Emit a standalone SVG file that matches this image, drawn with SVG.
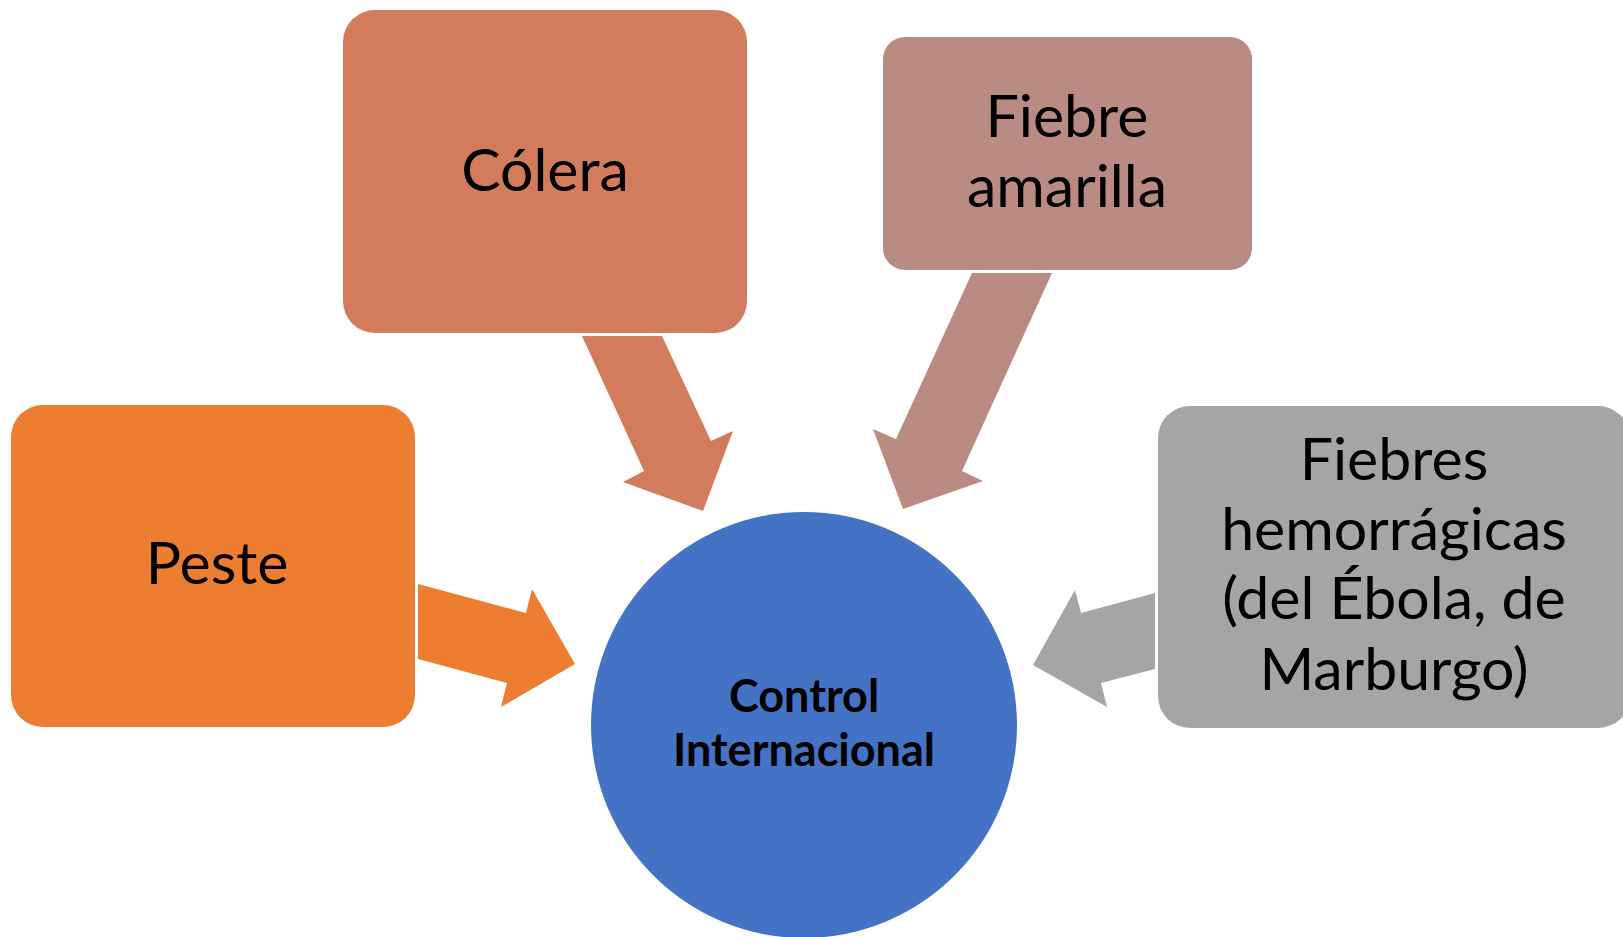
<svg xmlns="http://www.w3.org/2000/svg" width="1623" height="937" viewBox="0 0 1623 937">
<style>
.lbl{font-family:Lato,"Open Sans","Liberation Sans",sans-serif;font-size:59px;fill:#000;text-anchor:middle}
.ctr{font-family:Lato,"Open Sans","Liberation Sans",sans-serif;font-size:45px;font-weight:bold;fill:#000;text-anchor:middle}
</style>
<rect width="1623" height="937" fill="#fff"/>
<g id="connectors">
<polygon points="418,584 526,613 532,589 575,664 501,707 507,683 418,659" fill="#ED7D31"/>
<polygon points="582,336 662,336 711,441 733,431 703,511 623,482 644,471" fill="#D27B5D"/>
<polygon points="972,273 1052,273 962,471 983,481 903,509 873,429 896,439" fill="#BA8B82"/>
<polygon points="1155,593 1081,613 1075,590 1033,665 1107,707 1101,683 1155,669" fill="#A5A5A5"/>
</g>
<g id="peste">
<rect x="11" y="405" width="404" height="322" rx="32" fill="#ED7D31"/>
<text class="lbl" x="217" y="584">Peste</text>
</g>
<g id="colera">
<rect x="343" y="10" width="404" height="323" rx="32" fill="#D27B5D"/>
<text class="lbl" x="545" y="191">Cólera</text>
</g>
<g id="fiebre-amarilla">
<rect x="883" y="37" width="369" height="233" rx="22" fill="#BA8B82"/>
<text class="lbl" x="1067" y="137">Fiebre</text>
<text class="lbl" x="1067" y="207">amarilla</text>
</g>
<g id="fiebres-hemorragicas">
<rect x="1158" y="406" width="472" height="322" rx="32" fill="#A5A5A5"/>
<text class="lbl" x="1394" y="480">Fiebres</text>
<text class="lbl" x="1394" y="550">hemorrágicas</text>
<text class="lbl" x="1394" y="619">(del Ébola, de</text>
<text class="lbl" x="1394" y="690">Marburgo)</text>
</g>
<g id="control">
<circle cx="804" cy="725" r="213" fill="#4472C4"/>
<text class="ctr" x="804" y="712">Control</text>
<text class="ctr" x="804" y="766">Internacional</text>
</g>
</svg>
